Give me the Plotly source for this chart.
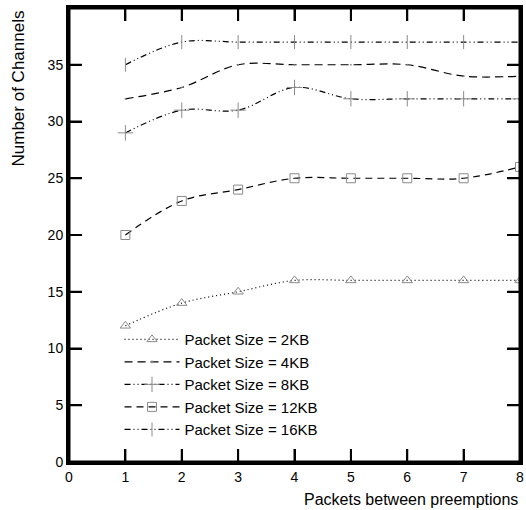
import plotly.graph_objects as go

x_vals = [1, 2, 3, 4, 5, 6, 7, 8]
names = ["Packet Size = 2KB", "Packet Size = 4KB", "Packet Size = 8KB",
         "Packet Size = 12KB", "Packet Size = 16KB"]
s2 = [12, 14, 15, 16, 16, 16, 16, 16]
s4 = [32, 33, 35, 35, 35, 35, 34, 34]
s8 = [29, 31, 31, 33, 32, 32, 32, 32]
s12 = [20, 23, 24, 25, 25, 25, 25, 26]
s16 = [35, 37, 37, 37, 37, 37, 37, 37]
x_ticks = [0, 1, 2, 3, 4, 5, 6, 7, 8]
y_ticks = [0, 5, 10, 15, 20, 25, 30, 35, 40]

series = [s2, s4, s8, s12, s16]
dashes = ["1px,3px", "8px,5px", "6px,3px,1px,3px,1px,3px", "7px,5px", "6px,3px,1px,3px,1px,3px"]
plot_symbols = ["triangle-up-open", "circle", "cross-thin-open", "square-open", "line-ns-open"]
sizes = [9, 1, 11, 9, 10]

INK = "#000000"
fig = go.Figure()
for name, ys, d, sym, sz in zip(names, series, dashes, plot_symbols, sizes):
    fig.add_trace(go.Scatter(
        x=x_vals, y=ys, name=name, mode="lines+markers",
        line=dict(color=INK, width=1.2, dash=d, shape="spline", smoothing=1.0),
        marker=dict(symbol=sym, size=sz, color="#8a8a8a",
                    line=dict(color="#8a8a8a", width=1)),
    ))

fig.update_xaxes(range=[0, 8], tickvals=x_ticks, showline=True, linewidth=3, linecolor=INK,
                 mirror="allticks", ticks="inside", ticklen=13, tickwidth=2, tickcolor=INK,
                 showgrid=False, zeroline=False, tickfont=dict(size=14))
fig.update_yaxes(range=[0, 40], tickvals=y_ticks, showline=True, linewidth=3, linecolor=INK,
                 mirror="allticks", ticks="inside", ticklen=13, tickwidth=2, tickcolor=INK,
                 showgrid=False, zeroline=False, tickfont=dict(size=14))

# frame and tick marks as shapes (placed from the tick arrays)
TL = 13 / 454
shapes = [dict(type="rect", xref="paper", yref="paper", x0=0, x1=1, y0=0, y1=1,
               line=dict(color=INK, width=3), layer="above")]
for t in x_ticks[1:-1]:
    shapes.append(dict(type="line", xref="x", yref="paper", x0=t, x1=t, y0=0, y1=TL,
                       line=dict(color=INK, width=2), layer="above"))
    shapes.append(dict(type="line", xref="x", yref="paper", x0=t, x1=t, y0=1, y1=1 - TL,
                       line=dict(color=INK, width=2), layer="above"))
for t in y_ticks[1:-1]:
    shapes.append(dict(type="line", xref="paper", yref="y", x0=0, x1=TL, y0=t, y1=t,
                       line=dict(color=INK, width=2), layer="above"))
    shapes.append(dict(type="line", xref="paper", yref="y", x0=1, x1=1 - TL, y0=t, y1=t,
                       line=dict(color=INK, width=2), layer="above"))

fig.update_layout(
    width=526, height=510,
    margin=dict(l=69, r=3, t=8, b=48),
    paper_bgcolor="white", plot_bgcolor="white",
    font=dict(family="Liberation Sans, Arial", size=16, color=INK),
    legend=dict(x=0.112, y=0.035, xanchor="left", yanchor="bottom",
                bgcolor="rgba(0,0,0,0)", font=dict(size=15),
                itemwidth=55, tracegroupgap=0),
    showlegend=True,
    shapes=shapes,
    annotations=[
        dict(text="Packets between preemptions", x=1.0, y=-0.083, xref="paper", yref="paper",
             xanchor="right", yanchor="middle", showarrow=False, font=dict(size=16)),
        dict(text="Number of Channels", x=-0.112, y=1.0, xref="paper", yref="paper",
             xanchor="center", yanchor="top", textangle=-90, showarrow=False, font=dict(size=17)),
    ],
)

fig.write_html("out.html", config={"displayModeBar": False},
               post_script="document.body.style.margin='0';document.body.style.overflow='hidden';")
